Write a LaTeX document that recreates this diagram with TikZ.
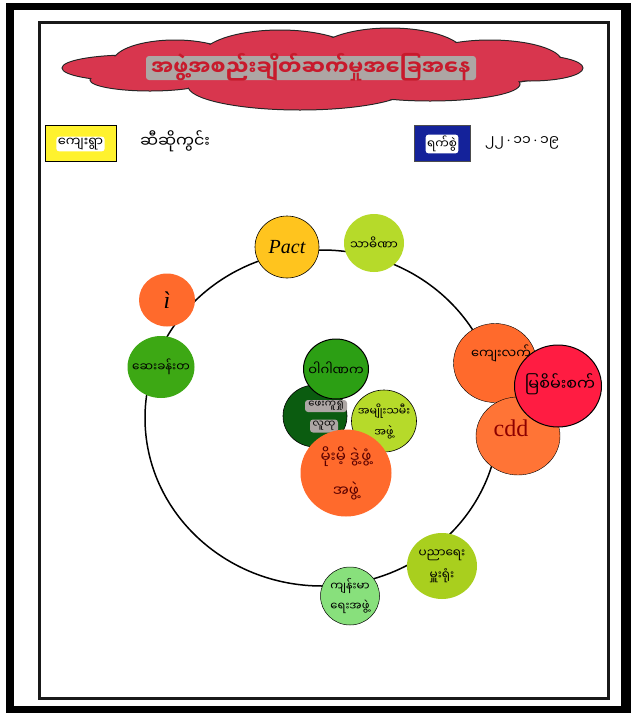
\documentclass[tikz,border=0pt]{standalone}
\usepackage{fontspec}
\usetikzlibrary{shapes.geometric}
\newfontfamily\mm[Script=Myanmar]{Noto Sans Myanmar UI}
\setmainfont{Liberation Serif}
\definecolor{cloudred}{HTML}{D8364E}
\definecolor{titlegrey}{HTML}{ADA6A4}
\definecolor{titlered}{HTML}{C81A2C}
\definecolor{orangeA}{HTML}{FF6A2C}
\definecolor{orangeB}{HTML}{FF7436}
\definecolor{limeA}{HTML}{B6DA2A}
\definecolor{limeB}{HTML}{A9CF1E}
\definecolor{grassA}{HTML}{3DA814}
\definecolor{grassB}{HTML}{2C9F14}
\definecolor{forest}{HTML}{0B5C10}
\definecolor{mint}{HTML}{88E07C}
\definecolor{gold}{HTML}{FFC41E}
\definecolor{crimson}{HTML}{FF1C42}
\definecolor{navy}{HTML}{14229A}
\definecolor{sun}{HTML}{FFF22E}
\tikzset{
  x=1pt,y=-1pt,
  disc/.style 2 args={ellipse,inner sep=0pt,minimum width=#1pt,minimum height=#2pt,draw=black,line width=.6pt},
  nork/.style={draw=none},
  lab/.style={font=\mm\fontsize{12}{20}\selectfont,align=center,text=black,inner sep=0pt},
  hand/.style={font=\fontsize{20}{20}\itshape\selectfont,text=black,inner sep=0pt},
  lobe/.style={fill=cloudred},
  lobeline/.style={draw=black!85,line width=1pt,fill=cloudred},
  chip/.style={fill=titlegrey,rounded corners=3pt}
}
\begin{document}
\begin{tikzpicture}
\useasboundingbox (0,0) rectangle (631,713);
% outer and inner frames
\fill[black] (6,3) rectangle (631,713);
\fill[white] (14,10) rectangle (621,706);
\draw[black!90,line width=3pt] (39.5,22.5) rectangle (608.5,698);
% cloud: outlines first, then fills that hide the inner lines
\draw[lobeline] (130,68) ellipse [x radius=68,y radius=13];
\draw[lobeline] (175,62) ellipse [x radius=62,y radius=22];
\draw[lobeline] (280,58) ellipse [x radius=80,y radius=28];
\draw[lobeline] (390,55) ellipse [x radius=75,y radius=27];
\draw[lobeline] (490,62) ellipse [x radius=72,y radius=22];
\draw[lobeline] (530,68) ellipse [x radius=53,y radius=13];
\draw[lobeline] (150,80) ellipse [x radius=60,y radius=11];
\draw[lobeline] (300,86) ellipse [x radius=112,y radius=24];
\draw[lobeline] (430,84) ellipse [x radius=90,y radius=17];
\fill[lobe] (130,68) ellipse [x radius=67,y radius=12];
\fill[lobe] (175,62) ellipse [x radius=61,y radius=21];
\fill[lobe] (280,58) ellipse [x radius=79,y radius=27];
\fill[lobe] (390,55) ellipse [x radius=74,y radius=26];
\fill[lobe] (490,62) ellipse [x radius=71,y radius=21];
\fill[lobe] (530,68) ellipse [x radius=52,y radius=12];
\fill[lobe] (150,80) ellipse [x radius=59,y radius=10];
\fill[lobe] (300,86) ellipse [x radius=111,y radius=23];
\fill[lobe] (430,84) ellipse [x radius=89,y radius=16];
% title
\fill[chip] (146,56) rectangle (476,80);
\node[inner sep=0pt,text=titlered,font=\mm\bfseries\fontsize{21}{21}\selectfont] (title) at (311,67) {အဖွဲ့အစည်းချိတ်ဆက်မှုအခြေအနေ};
% header boxes
\node[draw=black,line width=1pt,fill=sun,inner sep=0pt,minimum width=71pt,minimum height=36pt] (villagebox) at (80.5,143) {};
\node[fill=white,rounded corners=3pt,inner sep=1.5pt,font=\mm\fontsize{13}{13}\selectfont] (villagetag) at (80.5,144) {ကျေးရွာ};
\node[inner sep=0pt,font=\mm\fontsize{16}{16}\selectfont] (village) at (175,141) {ဆီဆိုကွင်း};
\node[draw=black!70,line width=.8pt,fill=navy,inner sep=0pt,minimum width=56pt,minimum height=36pt] (datebox) at (442,143) {};
\node[fill=white,rounded corners=3pt,inner sep=1.5pt,font=\mm\fontsize{12}{12}\selectfont] (datetag) at (442,144) {ရက်စွဲ};
\node[inner sep=0pt,font=\mm\fontsize{14}{14}\selectfont] (date) at (522,143) {၂၂{\rmfamily\,·\,}၁၁{\rmfamily\,·\,}၁၉};
% ring
\draw[black,line width=1.5pt] (322,418) ellipse [x radius=177,y radius=168];
% discs on the ring
\node[disc={64}{62},fill=gold,label={[hand,font=\fontsize{20}{20}\selectfont\itshape]center:Pact}] (pact) at (287,247) {};
\node[disc={60}{58},nork,fill=limeA,label={[lab]center:သာဓိဏာ}] (thadi) at (374,243) {};
\node[disc={56}{53},nork,fill=orangeA,label={[hand,font=\fontsize{24}{24}\selectfont\itshape]center:ì}] (i) at (167,300) {};
\node[disc={67}{62},nork,fill=grassA,label={[lab]center:ဆေးခန်းတ}] (clinic) at (161,367) {};
\node[disc={83}{79},fill=orangeA,line width=.4pt,label={[lab,font=\mm\fontsize{13}{13}\selectfont,xshift=6pt,yshift=10pt]center:ကျေးလက်}] (rural) at (495,363) {};
\node[disc={84}{78},fill=orangeB,line width=.4pt,label={[hand,text=red!55!black,font=\fontsize{24}{24}\selectfont,xshift=-7pt,yshift=8pt]center:cdd}] (cdd) at (518,436) {};
\node[disc={87}{82},fill=crimson,line width=1pt,label={[lab,font=\mm\fontsize{16}{16}\selectfont,xshift=2pt,yshift=2pt]center:မြစိမ်းစက်}] (red) at (558,386) {};
\node[disc={70}{66},nork,fill=limeB,label={[lab,font=\mm\fontsize{12}{22}\selectfont]center:ပညာရေး\\မှူးရုံး}] (edu) at (442,566) {};
\node[disc={59}{58},fill=mint,line width=.5pt,label={[lab,font=\mm\fontsize{11.5}{20}\selectfont]center:ကျန်းမာ\\ရေးအဖွဲ့}] (health) at (350,596) {};
% centre cluster
\node[disc={64}{62},fill=forest] (dark) at (315,416) {};
\node[disc={65}{62},fill=limeA,label={[lab,font=\mm\fontsize{11}{21}\selectfont]center:အမျိုးသမီး\\အဖွဲ့}] (women) at (384,421) {};
\node[chip,minimum width=42pt,minimum height=12pt,inner sep=0pt,font=\mm\fontsize{10}{10}\selectfont] (darkA) at (326,406) {ဖေးကူရှု};
\node[chip,minimum width=28pt,minimum height=13pt,inner sep=0pt,font=\mm\fontsize{10}{10}\selectfont] (darkB) at (324,426) {လူထု};
\node[disc={65}{60},fill=grassB,line width=1pt,label={[lab,font=\mm\fontsize{13}{13}\selectfont]center:ဝါဂါဏက}] (centre) at (336,369) {};
\node[disc={91}{87},nork,fill=orangeA,label={[lab,text=red!35!black,font=\mm\fontsize{15}{34}\selectfont]center:မိုးမိ့ ဒွဲ့ဖွံ့\\အဖွဲ့}] (bigorange) at (346,473) {};
\end{tikzpicture}
\end{document}
